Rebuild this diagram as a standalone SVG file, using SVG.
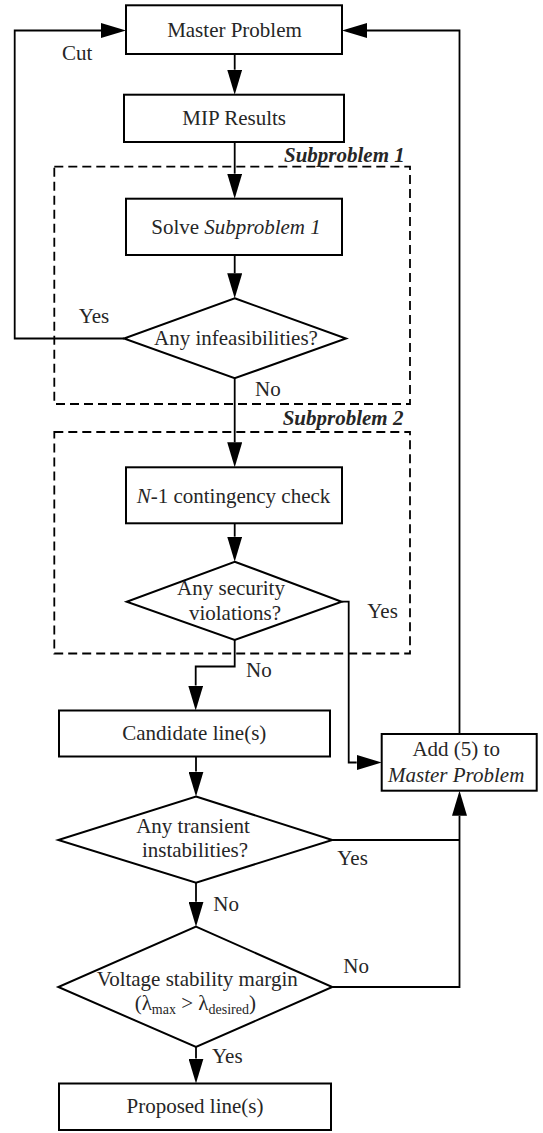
<svg xmlns="http://www.w3.org/2000/svg" width="543" height="1133" viewBox="0 0 543 1133">
<style>
.box{fill:#fff;stroke:#000;stroke-width:2}
.cl{fill:none;stroke:#000;stroke-width:1.8;stroke-dasharray:9 5}
.ln{fill:none;stroke:#000;stroke-width:1.8}
.ar{marker-end:url(#ah)}
text{font-family:"Liberation Serif","Times New Roman",serif;font-size:21px;fill:#262626}
.m{text-anchor:middle}
.i{font-style:italic}
.bi{font-style:italic;font-weight:bold}
.sub{font-size:14px}
</style>
<defs>
<marker id="ah" markerUnits="userSpaceOnUse" markerWidth="25" markerHeight="15" refX="0" refY="7.5" orient="auto" viewBox="0 0 25 15">
<path d="M0,0 L25,7.5 L0,15 z" fill="#000"/>
</marker>
</defs>
<rect width="543" height="1133" fill="#fff"/>

<g id="subproblem1">
<rect class="cl" x="54.3" y="166.7" width="355.7" height="237.3"/>
<text class="bi" x="284" y="161.7">Subproblem 1</text>
</g>
<g id="subproblem2">
<rect class="cl" x="54.3" y="432" width="355.7" height="221.5"/>
<text class="bi" x="282.7" y="425">Subproblem 2</text>
</g>

<g id="connectors">
<path class="ln ar" d="M234.7 54 V69.7"/>
<path class="ln ar" d="M234.7 142 V173.7"/>
<path class="ln ar" d="M234.7 255 V273.3"/>
<path class="ln ar" d="M124 338.5 H14.7 V30.5 H101"/>
<path class="ln ar" d="M234.7 378.3 V442.3"/>
<path class="ln ar" d="M234.7 523.3 V536.7"/>
<path class="ln ar" d="M234.7 640 V666.5 H195.7 V685.5"/>
<path class="ln ar" d="M341.7 601.7 H348.7 V762.5 H356.7"/>
<path class="ln ar" d="M196 756.5 V771.5"/>
<path class="ln" d="M332.3 840 H459.5"/>
<path class="ln ar" d="M196 882.7 V901.7"/>
<path class="ln ar" d="M332.3 987 H459.5 V815.7"/>
<path class="ln ar" d="M196 1047 V1058.5"/>
<path class="ln ar" d="M459.5 734 V30.5 H367"/>
<text x="62" y="60">Cut</text>
<text x="78.7" y="322.7">Yes</text>
<text x="255" y="396">No</text>
<text x="367.3" y="618.3">Yes</text>
<text x="246" y="676.7">No</text>
<text x="337.3" y="865">Yes</text>
<text x="213.3" y="910.7">No</text>
<text x="343.3" y="972.7">No</text>
<text x="212" y="1062.7">Yes</text>
</g>

<g id="master">
<rect class="box" x="126" y="5.3" width="216" height="48.7"/>
<text class="m" x="234.5" y="37">Master Problem</text>
</g>
<g id="mip">
<rect class="box" x="124" y="94.7" width="220" height="47.3"/>
<text class="m" x="234.2" y="124.5">MIP Results</text>
</g>
<g id="solve">
<rect class="box" x="126" y="198.7" width="216" height="56.3"/>
<text class="m" x="236" y="233.5">Solve <tspan class="i">Subproblem 1</tspan></text>
</g>
<g id="infeasible">
<polygon class="box" points="234.7,298.3 346,338.5 234.7,378.3 124,338.5"/>
<text class="m" x="236" y="345">Any infeasibilities?</text>
</g>
<g id="contingency">
<rect class="box" x="126" y="467.3" width="216" height="56"/>
<text class="m" x="233.5" y="502.7"><tspan class="i">N</tspan>-1 contingency check</text>
</g>
<g id="security">
<polygon class="box" points="234.7,561.7 341.7,601.7 234.7,640 126.7,601.7"/>
<text class="m" x="231" y="595">Any security</text>
<text class="m" x="235" y="620">violations?</text>
</g>
<g id="candidate">
<rect class="box" x="59" y="710.5" width="271" height="46"/>
<text class="m" x="194.3" y="740">Candidate line(s)</text>
</g>
<g id="add">
<rect class="box" x="381.7" y="734" width="155" height="56.7"/>
<text class="m" x="456.2" y="756">Add (5) to</text>
<text class="m i" x="456.2" y="781.7">Master Problem</text>
</g>
<g id="transient">
<polygon class="box" points="196,796.5 332.3,840 196,882.7 58.3,840"/>
<text class="m" x="193" y="832.7">Any transient</text>
<text class="m" x="195" y="857.3">instabilities?</text>
</g>
<g id="voltage">
<polygon class="box" points="196,926.7 332.3,987 196,1047 58.3,987"/>
<text class="m" x="197.2" y="985.5">Voltage stability margin</text>
<text class="m" x="195.3" y="1010">(λ<tspan class="sub" dy="4">max</tspan><tspan dy="-4"> &gt; λ</tspan><tspan class="sub" dy="4">desired</tspan><tspan dy="-4">)</tspan></text>
</g>
<g id="proposed">
<rect class="box" x="59" y="1083.5" width="272" height="46.5"/>
<text class="m" x="195" y="1113.3">Proposed line(s)</text>
</g>
</svg>
